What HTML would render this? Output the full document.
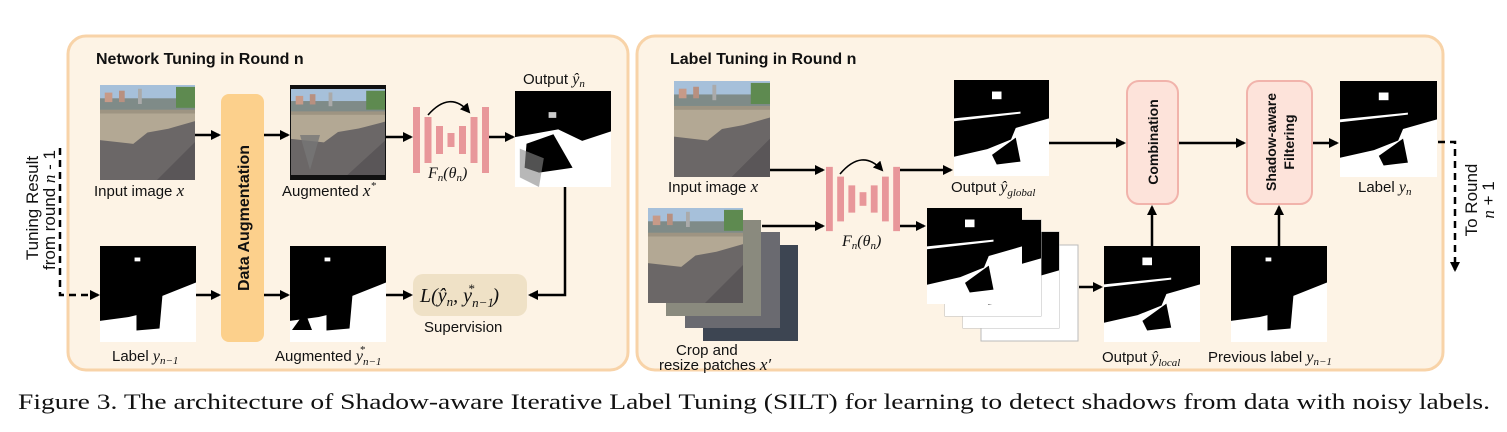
<!DOCTYPE html>
<html><head><meta charset="utf-8"><style>
html,body{margin:0;padding:0;background:#fff;width:1507px;height:432px;overflow:hidden}
svg{display:block}
text{font-family:"Liberation Sans",sans-serif;fill:#111}
.m{font-family:"Liberation Serif",serif;font-style:italic}
.t{font-weight:bold;font-size:16px}
.l{font-size:15px}
</style></head><body>
<svg width="1507" height="432" viewBox="0 0 1507 432" xmlns="http://www.w3.org/2000/svg">
<defs>
<marker id="ah" markerWidth="10" markerHeight="10" refX="8" refY="5" orient="auto" markerUnits="userSpaceOnUse">
<path d="M0,0 L10,5 L0,10 z" fill="#000"/></marker>
<symbol id="photo" viewBox="0 0 100 100" preserveAspectRatio="none">
<rect width="100" height="100" fill="#b3a894"/>
<rect width="100" height="22" fill="#a6c0da"/>
<rect x="0" y="14" width="100" height="14" fill="#7f8b88"/>
<rect x="5" y="8" width="8" height="10" fill="#c79a88"/><rect x="20" y="6" width="6" height="12" fill="#b89080"/>
<rect x="40" y="4" width="4" height="16" fill="#aaa"/><rect x="80" y="2" width="20" height="22" fill="#5e8a50"/>
<rect x="0" y="26" width="100" height="4" fill="#9e9482"/>
<polygon points="0,58 35,62 50,50 72,46 100,38 100,100 0,100" fill="#6b6767"/>
<polygon points="60,100 100,60 100,100" fill="#5a5658"/>
</symbol>
<symbol id="maskA" viewBox="0 0 100 100" preserveAspectRatio="none">
<rect width="100" height="100" fill="#000"/>
<polygon points="0,78 30,74 38,72 38,88 62,86 65,52 100,38 100,100 0,100" fill="#fff"/>
<rect x="36" y="12" width="6" height="4" fill="#fff"/>
</symbol>
<symbol id="maskB" viewBox="0 0 100 100" preserveAspectRatio="none">
<rect width="100" height="100" fill="#000"/>
<polygon points="0,40 70,33 70,35 0,43" fill="#fff"/>
<polygon points="0,80 35,72 60,62 65,50 100,40 100,100 0,100" fill="#fff"/>
<polygon points="40,78 65,60 70,85 45,88" fill="#000"/>
<rect x="40" y="12" width="10" height="8" fill="#fff"/>
</symbol>
<symbol id="maskC" viewBox="0 0 100 100" preserveAspectRatio="none">
<rect width="100" height="100" fill="#000"/>
<polygon points="0,48 45,40 70,52 100,42 100,100 0,100" fill="#fff"/>
<polygon points="12,55 40,45 60,80 25,85 10,80" fill="#000"/>
<polygon points="5,60 30,70 25,100 5,90" fill="#888" opacity="0.6"/>
<rect x="35" y="22" width="8" height="6" fill="#ccc"/>
</symbol>
<symbol id="net" viewBox="0 0 76 66">
<rect x="0" y="0" width="7" height="66" fill="#e8979a"/>
<rect x="11.5" y="10" width="7" height="46" fill="#e8979a"/>
<rect x="23" y="19" width="7" height="28" fill="#e8979a"/>
<rect x="34.5" y="26" width="7" height="14" fill="#e8979a"/>
<rect x="46" y="19" width="7" height="28" fill="#e8979a"/>
<rect x="57.5" y="10" width="7" height="46" fill="#e8979a"/>
<rect x="69" y="0" width="7" height="66" fill="#e8979a"/>
</symbol>
</defs>

<!-- panels -->
<rect x="68" y="36" width="560" height="334" rx="18" fill="#fdf3e5" stroke="#f8d3a8" stroke-width="3"/>
<rect x="637" y="36" width="806" height="334" rx="18" fill="#fdf3e5" stroke="#f8d3a8" stroke-width="3"/>

<!-- LEFT -->
<text x="96" y="64" class="t">Network Tuning in Round n</text>
<use href="#photo" x="100" y="85" width="95" height="95"/>
<text x="94" y="196" class="l">Input image <tspan class="m" font-size="17">x</tspan></text>
<rect x="221" y="94" width="43" height="248" rx="8" fill="#fcd08c"/>
<text transform="translate(249,218) rotate(-90)" text-anchor="middle" font-weight="bold" font-size="16">Data Augmentation</text>
<rect x="290" y="85" width="96" height="95" fill="#111"/>
<use href="#photo" x="291" y="89" width="94" height="86"/>
<polygon points="300,135 320,135 310,170" fill="#777" opacity="0.8"/>
<text x="282" y="196" class="l">Augmented  <tspan class="m" font-size="17">x</tspan><tspan class="m" font-size="11" dy="-7">*</tspan></text>
<use href="#net" x="413" y="107" width="76" height="66"/>
<path d="M428,115 Q450,90 469,112" fill="none" stroke="#000" stroke-width="1.6" marker-end="url(#ah)"/>
<text x="428" y="178" class="m" font-size="16">F<tspan font-size="11" dy="3">n</tspan><tspan dy="-3">(θ</tspan><tspan font-size="11" dy="3">n</tspan><tspan dy="-3">)</tspan></text>
<text x="523" y="84" class="l">Output <tspan class="m" font-size="16">ŷ</tspan><tspan class="m" font-size="11" dy="3">n</tspan></text>
<use href="#maskC" x="515" y="91" width="96" height="96"/>
<use href="#maskA" x="100" y="246" width="96" height="96"/>
<text x="112" y="361" class="l">Label <tspan class="m" font-size="16">y</tspan><tspan class="m" font-size="11" dy="3">n−1</tspan></text>
<use href="#maskA" x="290" y="246" width="96" height="96"/>
<polygon points="292,330 305,312 312,330" fill="#000"/>
<text x="275" y="361" class="l">Augmented <tspan class="m" font-size="16">y</tspan><tspan class="m" font-size="11" dy="4">n−1</tspan><tspan class="m" font-size="11" dx="-22" dy="-12">*</tspan></text>
<rect x="413" y="274" width="114" height="42" rx="10" fill="#efe1c6"/>
<text x="420" y="302" class="m" font-size="20">L(ŷ<tspan font-size="13" dy="4">n</tspan><tspan dy="-4">, y</tspan><tspan font-size="13" dy="5">n−1</tspan><tspan font-size="13" dx="-26" dy="-14">*</tspan><tspan dx="18" dy="9">)</tspan></text>
<text x="424" y="332" class="l">Supervision</text>

<!-- left arrows -->
<g stroke="#000" stroke-width="2.5" fill="none">
<line x1="195" y1="135" x2="219" y2="135" marker-end="url(#ah)"/>
<line x1="264" y1="135" x2="288" y2="135" marker-end="url(#ah)"/>
<line x1="386" y1="137" x2="411" y2="137" marker-end="url(#ah)"/>
<line x1="489" y1="137" x2="513" y2="137" marker-end="url(#ah)"/>
<line x1="196" y1="295" x2="219" y2="295" marker-end="url(#ah)"/>
<line x1="264" y1="295" x2="288" y2="295" marker-end="url(#ah)"/>
<line x1="386" y1="295" x2="411" y2="295" marker-end="url(#ah)"/>
<polyline points="565,187 565,295 530,295" marker-end="url(#ah)"/>
<polyline points="60,148 60,295 98,295" stroke-dasharray="7,5" marker-end="url(#ah)"/>
</g>
<text transform="translate(38,208) rotate(-90)" text-anchor="middle" font-size="17">Tuning Result</text>
<text transform="translate(55,210) rotate(-90)" text-anchor="middle" font-size="17">from round <tspan class="m">n</tspan> - 1</text>

<!-- RIGHT -->
<text x="670" y="64" class="t">Label Tuning in Round n</text>
<use href="#photo" x="674" y="81" width="96" height="96"/>
<text x="668" y="192" class="l">Input image <tspan class="m" font-size="17">x</tspan></text>
<rect x="703" y="245" width="95" height="96" fill="#3d4552"/>
<rect x="685" y="232" width="95" height="96" fill="#6a6a70"/>
<rect x="666" y="220" width="95" height="96" fill="#8a8a7e"/>
<use href="#photo" x="648" y="208" width="95" height="95"/>
<text x="676" y="355" class="l">Crop and</text>
<text x="659" y="370" class="l">resize patches  <tspan class="m" font-size="17">x′</tspan></text>
<use href="#net" x="826" y="166" width="74" height="66"/>
<path d="M840,174 Q862,148 882,170" fill="none" stroke="#000" stroke-width="1.6" marker-end="url(#ah)"/>
<text x="842" y="246" class="m" font-size="16">F<tspan font-size="11" dy="3">n</tspan><tspan dy="-3">(θ</tspan><tspan font-size="11" dy="3">n</tspan><tspan dy="-3">)</tspan></text>
<use href="#maskB" x="954" y="80" width="95" height="96"/>
<text x="951" y="192" class="l">Output <tspan class="m" font-size="16">ŷ</tspan><tspan class="m" font-size="11" dy="4">global</tspan></text>
<rect x="981" y="245" width="97" height="96" fill="#fff" stroke="#bbb"/>
<rect x="963" y="232" width="96" height="96" fill="#fff" stroke="#bbb"/>
<use href="#maskB" x="963" y="232" width="96" height="96"/>
<rect x="945" y="220" width="96" height="96" fill="#fff" stroke="#bbb"/>
<use href="#maskB" x="945" y="220" width="96" height="96"/>
<use href="#maskB" x="927" y="208" width="95" height="96"/>
<use href="#maskB" x="1104" y="246" width="96" height="96"/>
<text x="1102" y="362" class="l">Output <tspan class="m" font-size="16">ŷ</tspan><tspan class="m" font-size="11" dy="4">local</tspan></text>
<use href="#maskA" x="1231" y="246" width="96" height="96"/>
<text x="1208" y="362" class="l">Previous label <tspan class="m" font-size="16">y</tspan><tspan class="m" font-size="11" dy="3">n−1</tspan></text>
<rect x="1127" y="81" width="51" height="123" rx="12" fill="#fde3da" stroke="#f1b3ab" stroke-width="2"/>
<text transform="translate(1158,142) rotate(-90)" text-anchor="middle" font-weight="bold" font-size="14">Combination</text>
<rect x="1247" y="81" width="65" height="123" rx="12" fill="#fde3da" stroke="#f1b3ab" stroke-width="2"/>
<text transform="translate(1276,142) rotate(-90)" text-anchor="middle" font-weight="bold" font-size="14">Shadow-aware</text>
<text transform="translate(1294,142) rotate(-90)" text-anchor="middle" font-weight="bold" font-size="14">Filtering</text>
<use href="#maskB" x="1340" y="81" width="97" height="96"/>
<text x="1358" y="192" class="l">Label <tspan class="m" font-size="16">y</tspan><tspan class="m" font-size="11" dy="3">n</tspan></text>
<g stroke="#000" stroke-width="2.5" fill="none">
<line x1="770" y1="170" x2="823" y2="170" marker-end="url(#ah)"/>
<line x1="762" y1="226" x2="823" y2="226" marker-end="url(#ah)"/>
<line x1="900" y1="170" x2="951" y2="170" marker-end="url(#ah)"/>
<line x1="900" y1="226" x2="924" y2="226" marker-end="url(#ah)"/>
<line x1="1079" y1="287" x2="1101" y2="287" marker-end="url(#ah)"/>
<line x1="1049" y1="143" x2="1124" y2="143" marker-end="url(#ah)"/>
<line x1="1179" y1="143" x2="1244" y2="143" marker-end="url(#ah)"/>
<line x1="1313" y1="143" x2="1337" y2="143" marker-end="url(#ah)"/>
<line x1="1152" y1="246" x2="1152" y2="207" marker-end="url(#ah)"/>
<line x1="1279" y1="246" x2="1279" y2="207" marker-end="url(#ah)"/>
<polyline points="1438,142 1455,142 1455,270" stroke-dasharray="7,5" marker-end="url(#ah)"/>
</g>
<text transform="translate(1477,200) rotate(-90)" text-anchor="middle" font-size="17">To Round</text>
<text transform="translate(1494,200) rotate(-90)" text-anchor="middle" font-size="17"><tspan class="m">n</tspan> + 1</text>

<text x="18" y="409" font-family="Liberation Serif,serif" font-size="22" textLength="1472" lengthAdjust="spacingAndGlyphs" style="font-family:'Liberation Serif',serif">Figure 3. The architecture of Shadow-aware Iterative Label Tuning (SILT) for learning to detect shadows from data with noisy labels.</text>
</svg>
</body></html>
